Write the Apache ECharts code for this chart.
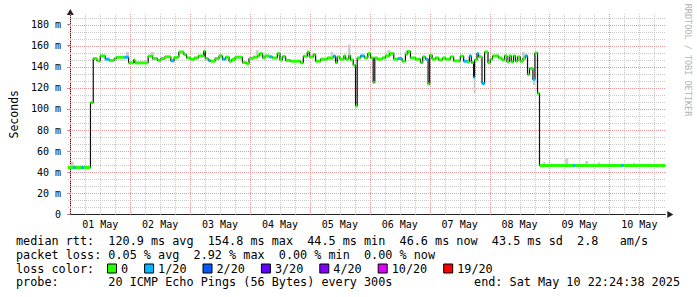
<!DOCTYPE html>
<html><head><meta charset="utf-8">
<script src="https://cdn.jsdelivr.net/npm/echarts@6/dist/echarts.min.js"></script>
<style>html,body{margin:0;padding:0;background:#fff}#c{width:697px;height:297px}</style>
</head><body><div id="c"></div>
<script>
// ---- data (x in hours since 01 May 00:00, y in ms) ----
const startHour = -0.92;
const endHour = 238.4;
const dayLabels = ['01 May','02 May','03 May','04 May','05 May','06 May','07 May','08 May','09 May','10 May'];
const dayLabelHours = [12, 36, 60, 84, 108, 132, 156, 180, 204, 228];
const yTickValues = [0, 20, 40, 60, 80, 100, 120, 140, 160, 180];
const lossColors = ['#26ff00','#00b8ff','#0059ff','#5e00ff','#7e00ff','#dd00ff','#ff0000'];
const lossLabels = ['0','1/20','2/20','3/20','4/20','10/20','19/20'];
// [segment start hour, median ms, loss colour index]
const medianSteps = [
[-0.92,44.5,0],[1.08,44.5,1],[2.28,44.5,0],[4.28,44.5,1],[5.48,44.5,0],
[8.08,106,0],[9.2,147.8,0],[10.68,145.6,0],[12.0,150.3,0],[14.0,147.2,1],
[15.6,146,0],[17.6,147.8,0],[18.48,149,0],[21.6,149,1],[23.36,143.7,0],
[25.36,146.5,0],[25.88,143.7,0],[31.2,150,0],[32.96,147.8,0],[34.96,146,0],
[36.28,147.8,0],[37.88,149.4,0],[40.28,145.6,1],[41.6,148.8,0],[42.96,149.4,0],
[43.48,154,0],[45.48,151.6,0],[46.56,148.4,0],[48.28,147,0],[49.6,148.4,0],
[51.36,150.3,0],[53.48,154.8,0],[54.08,147.8,0],[55.28,146,1],[56.16,145.3,0],
[58.0,147.8,0],[59.6,150.3,0],[60.96,147.2,1],[62.28,149.1,0],[63.6,145.3,0],
[64.68,146.9,0],[66.0,149.1,0],[68.96,144,0],[70.56,143.1,0],[71.6,147.8,0],
[73.2,149.1,0],[74.96,150.3,0],[75.88,152.5,0],[77.08,148.4,0],[78.0,150.3,0],
[79.6,149.4,1],[80.96,148.4,0],[82.96,152.5,0],[84.0,146.5,0],[84.96,149.7,0],
[86.28,146,0],[88.28,145.3,0],[92.28,143.7,0],[93.36,150,0],[94.96,154,0],
[95.76,149.4,0],[97.36,151.6,0],[98.28,145.3,0],[100.28,147.2,0],[102.96,148.4,0],
[105.36,150,1],[106.28,144,0],[106.96,149.4,0],[108.0,147.2,0],[109.6,150.3,0],
[110.28,147.2,0],[111.6,150.3,0],[112.28,146.5,0],[113.36,141.5,0],[114.28,102.8,0],
[114.96,148.4,0],[116.28,150.3,1],[117.88,148.4,0],[119.2,152.5,0],[120.28,148.4,0],
[121.36,125.2,0],[122.0,148.4,0],[122.96,147.2,0],[124.96,148.4,0],[126.28,150.3,0],
[128.0,152.5,0],[129.6,147.2,0],[131.2,147.8,1],[132.96,145.3,0],[134.28,152,0],
[135.2,154.5,0],[136.28,148.4,0],[138.28,147.2,0],[140.28,144,0],[141.2,149.4,0],
[142.28,147.2,1],[143.36,123.6,0],[144.0,151,0],[144.96,147.2,0],[146.28,148.4,0],
[147.6,146.5,0],[149.2,148.4,0],[150.28,147.2,0],[152.28,149.4,0],[153.6,145.6,0],
[156.28,150,0],[157.6,145.3,1],[158.96,144.7,0],[159.88,150.3,1],[160.68,144,0],
[161.6,130,1],[162.0,146.5,0],[162.96,152.5,1],[163.6,149.4,0],[164.96,124.2,1],
[166.0,154,0],[167.36,143.7,0],[168.28,147.2,0],[169.2,150.3,0],[171.6,148.4,0],
[172.96,146.5,0],[174.0,150.3,0],[174.96,144.7,0],[175.88,150.3,0],[176.68,144.7,0],
[177.6,150.3,0],[178.4,145.3,0],[179.28,149.4,0],[180.28,145.3,0],[181.36,148,0],
[182.28,150.3,1],[183.2,132.7,0],[184.0,138.4,0],[185.36,128,1],[186.16,153.1,0],
[187.2,114.8,0],[188.0,46.5,0],[201.6,46.5,1],[202.28,46.5,0],[220.68,46.5,1],
[221.6,46.5,0]
];
// smoke (ping spread): [start hour, end hour, low ms, high ms]
const smokeBars = [
[0.3,1.4,45,50],[22.3,23.5,150,154],[32.3,33.5,150,154],[59.5,60.7,150,152],
[74.3,75.5,151,155.7],[104.3,105.4,150.3,154],[111.2,112.3,149.4,161],[127,128.3,151,155.7],
[134.3,135.6,152.5,155.7],[161.6,162.3,114.8,129],[181,182.3,149.4,154],[185.4,186.2,122.6,128],
[189.5,190.3,46.5,50],[198.3,199.5,46.5,53.5],[206.3,207.5,46.5,50.6],[211.5,212.3,46.5,49.5],
[225.5,226.3,46.5,49]
];
const statsLines = [
'median rtt:  120.9 ms avg  154.8 ms max  44.5 ms min  46.6 ms now  43.5 ms sd  2.8   am/s',
'packet loss: 0.05 % avg  2.92 % max  0.00 % min  0.00 % now'
];
const lossTitle = 'loss color:';
const probeText = 'probe:       20 ICMP Echo Pings (56 Bytes) every 300s';
const endText = 'end: Sat May 10 22:24:38 2025';
const sideText = 'RRDTOOL / TOBI OETIKER';

// ---- build ----
const yMax = 190;
const gridHours = [];
for (let h = 0; h < endHour; h += 6) gridHours.push([h, 0, h % 24 === 0 ? 1 : 0]);
const gridValues = [];
for (let k = 1; k * 20 / 3 < yMax; k++) gridValues.push([startHour, k * 20 / 3, k % 3 === 0 ? 1 : 0]);
const stepData = medianSteps.map(d => [d[0], d[1]]);
stepData.push([endHour, medianSteps[medianSteps.length - 1][1]]);
const segData = medianSteps.map((d, i) => [d[0], d[1], d[2], i + 1 < medianSteps.length ? medianSteps[i + 1][0] : endHour]);

const MONO = 'DejaVu Sans Mono';
const FONT = '11.8px "DejaVu Sans Mono"';
const cw = 7.1;
const MAJOR = '#e09898', MINOR = '#c8c8c8';
const ARROW = '#7a1f1f';
const graphics = [];
const lineY = [241, 254.7, 268.5, 282.3];
statsLines.forEach((t, i) => graphics.push({type:'text', x:16, y:lineY[i], style:{text:t, font:FONT, fill:'#000', verticalAlign:'middle'}}));
graphics.push({type:'text', x:16, y:lineY[2], style:{text:lossTitle, font:FONT, fill:'#000', verticalAlign:'middle'}});
let bx = 107;
lossLabels.forEach((lab, i) => {
  graphics.push({type:'rect', shape:{x:bx+0.5, y:lineY[2]-4.5, width:9, height:9}, style:{fill:lossColors[i], stroke:'#000', lineWidth:1}});
  graphics.push({type:'text', x:bx+14, y:lineY[2], style:{text:lab, font:FONT, fill:'#000', verticalAlign:'middle'}});
  bx = bx + 14 + lab.length * cw + 16;
});
graphics.push({type:'text', x:16, y:lineY[3], style:{text:probeText, font:FONT, fill:'#000', verticalAlign:'middle'}});
graphics.push({type:'text', x:680, y:lineY[3], style:{text:endText, font:FONT, fill:'#000', verticalAlign:'middle', align:'right'}});
graphics.push({type:'text', x:688, y:60, rotation:-Math.PI/2, style:{text:sideText, font:'8.5px "DejaVu Sans Mono"', fill:'#b4b4b4', verticalAlign:'middle', align:'center'}});

const chart = echarts.init(document.getElementById('c'), null, {renderer:'svg'});
chart.setOption({
  animation: false,
  backgroundColor: '#fff',
  grid: {left:67, right:31.7, top:14, bottom:82.5, containLabel:false},
  xAxis: {
    type:'value', min:startHour, max:endHour,
    axisLine:{show:true, symbol:['none','triangle'], symbolSize:[7,6], symbolOffset:[0,5], lineStyle:{color:'#222', width:1}},
    axisTick:{show:false},
    splitLine:{show:false},
    axisLabel:{customValues:dayLabelHours, formatter:v => dayLabels[Math.round((v - 12) / 24)], fontFamily:MONO, fontSize:10, color:'#000', margin:5}
  },
  yAxis: {
    type:'value', min:0, max:yMax, interval:20,
    name:'Seconds', nameLocation:'middle', nameGap:48, nameRotate:90,
    nameTextStyle:{fontFamily:MONO, fontSize:11.5, color:'#000'},
    axisLine:{show:true, symbol:['none','triangle'], symbolSize:[7,6], symbolOffset:[0,2], lineStyle:{color:'#222', width:1}},
    axisTick:{show:true, length:3, lineStyle:{color:'#888'}},
    axisLabel:{formatter:v => (yTickValues.indexOf(v) < 0 ? '' : (v === 0 ? '0' : v + ' m')), fontFamily:MONO, fontSize:10, color:'#000', margin:7, showMaxLabel:false},
    splitLine:{show:false},
    minorSplitLine:{show:false}
  },
  graphic: graphics,
  series: [
    {type:'custom', silent:true, z:1, data:gridHours, encode:{x:0, y:1},
     renderItem:(p, api) => {
       const h = api.value(0);
       const a = api.coord([h, yMax]), b = api.coord([h, 0]);
       const x = Math.round(a[0]) + 0.5;
       return {type:'line', shape:{x1:x, y1:a[1], x2:x, y2:b[1]}, style:{stroke: api.value(2) ? MAJOR : MINOR, lineWidth:1, lineDash:[1,1]}};
     }},
    {type:'custom', silent:true, z:1, data:gridValues, encode:{x:0, y:1},
     renderItem:(p, api) => {
       const v = api.value(1);
       const a = api.coord([startHour, v]), b = api.coord([endHour, v]);
       const y = Math.round(a[1]) + 0.5;
       return {type:'line', shape:{x1:a[0], y1:y, x2:b[0], y2:y}, style:{stroke: api.value(2) ? MAJOR : MINOR, lineWidth:1, lineDash:[1,1]}};
     }},
    {type:'custom', silent:true, z:2, data:smokeBars, encode:{x:[0,1], y:[2,3]},
     renderItem:(p, api) => {
       const a = api.coord([api.value(0), api.value(3)]), b = api.coord([api.value(1), api.value(2)]);
       return {type:'rect', shape:{x:a[0], y:a[1], width:b[0]-a[0], height:b[1]-a[1]}, style:{fill:'#cccccc'}};
     }},
    {type:'line', step:'end', data:stepData, symbol:'none', z:3, silent:true,
     lineStyle:{color:'#111', width:1.2}},
    {type:'custom', silent:true, z:4, data:segData, encode:{x:[0,3], y:1},
     renderItem:(p, api) => {
       const a = api.coord([api.value(0), api.value(1)]), b = api.coord([api.value(3), api.value(1)]);
       return {type:'line', shape:{x1:a[0], y1:a[1], x2:b[0], y2:b[1]}, style:{stroke:lossColors[api.value(2)], lineWidth:3}};
     }}
  ]
});
</script></body></html>
